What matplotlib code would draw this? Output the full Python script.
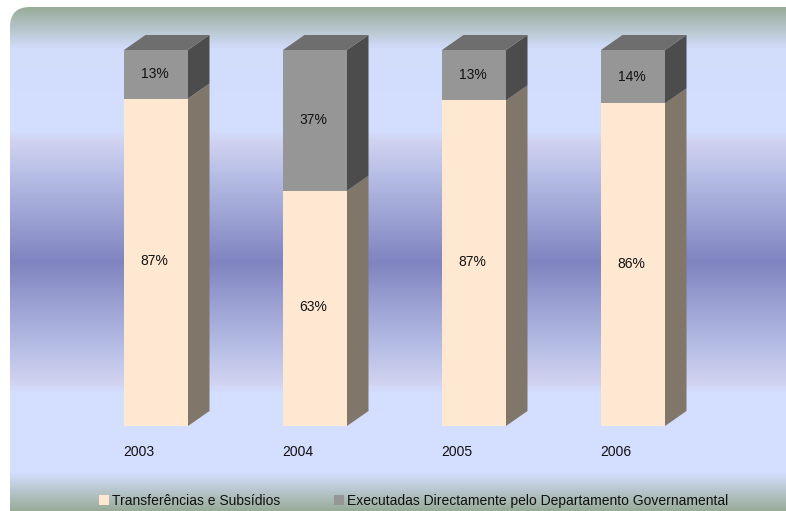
import matplotlib
matplotlib.use('Agg')
import matplotlib.pyplot as plt
import numpy as np
from matplotlib.colors import LinearSegmentedColormap
from matplotlib.patches import FancyBboxPatch, Polygon

plt.rcParams['font.family'] = ['Liberation Sans', 'DejaVu Sans']

# data
years = ['2003', '2004', '2005', '2006']
transfers = [87.1, 62.6, 86.6, 85.8]
direct = [12.9, 37.4, 13.4, 14.2]
series_names = ['Transferências e Subsídios',
                'Executadas Directamente pelo Departamento Governamental']

W, H = 786, 511

fig = plt.figure(figsize=(W / 100, H / 100), dpi=100, facecolor='white')

# background panel with the vertical gradient
bg = fig.add_axes([0, 0, 1, 1])
bg.axis('off')
stops = [(0.0, '#98ac98'), (0.08, '#d2dcfb'), (0.245, '#d4deff'), (0.265, '#d0d2f0'),
         (0.33, '#b8bfe6'), (0.506, '#8084c0'), (0.68, '#b8bfe6'), (0.745, '#d0d2f0'),
         (0.765, '#d4deff'), (0.925, '#d4deff'), (1.0, '#98ac98')]
cmap = LinearSegmentedColormap.from_list('panel', stops, N=512)
grad = np.linspace(0, 1, 504).reshape(-1, 1)
im = bg.imshow(grad, cmap=cmap, extent=(10, W + 30, 511, 7), aspect='auto')
panel = FancyBboxPatch((10 + 20, 7 + 20), W, H, boxstyle='round,pad=20,rounding_size=20',
                       transform=bg.transData, fc='none', ec='none')
bg.add_patch(panel)
im.set_clip_path(panel)
bg.set_xlim(0, W)
bg.set_ylim(H, 0)

# chart axes: x in category slots, y in percent
ax = fig.add_axes([0, (H - 426) / H, 1, 376 / H])
ax.patch.set_alpha(0)
ax.axis('off')
slot = 159
x0 = 156
ax.set_xlim(-x0 / slot, (W - x0) / slot)
ax.set_ylim(0, 100)

x = np.arange(len(years))
bar_w = 64 / slot
dx = 21.5 / slot
dy = 15 / 376 * 100

c_low, c_low_side = '#ffe8d2', '#80766a'
c_top, c_top_side, c_cap = '#969696', '#4c4c4c', '#6e6e6e'

ax.bar(x, transfers, bar_w, color=c_low, lw=0, label=series_names[0], zorder=3)
ax.bar(x, direct, bar_w, bottom=transfers, color=c_top, lw=0, label=series_names[1], zorder=3)

for i in x:
    r = i + bar_w / 2
    l = i - bar_w / 2
    mid = transfers[i]
    top = mid + direct[i]
    ax.add_patch(Polygon([(r, 0), (r + dx, dy), (r + dx, mid + dy), (r, mid)],
                         fc=c_low_side, ec='none', zorder=2, clip_on=False))
    ax.add_patch(Polygon([(r, mid), (r + dx, mid + dy), (r + dx, top + dy), (r, top)],
                         fc=c_top_side, ec='none', zorder=2, clip_on=False))
    ax.add_patch(Polygon([(l, top), (l + dx, top + dy), (r + dx, top + dy), (r, top)],
                         fc=c_cap, ec='none', zorder=2, clip_on=False))
    ax.annotate(f'{transfers[i]:.0f}%', (i, mid / 2), xytext=(-1.5, 1), textcoords='offset pixels',
                ha='center', va='center', fontsize=10, color='#111111', zorder=4)
    ax.annotate(f'{direct[i]:.0f}%', (i, mid + direct[i] / 2), xytext=(-1.5, 0),
                textcoords='offset pixels', ha='center', va='center', fontsize=10,
                color='#111111', zorder=4)
    ax.annotate(years[i], (l, 0), xytext=(-1, -26), textcoords='offset pixels', ha='left',
                va='center', fontsize=10, color='#111111')

ax.legend(loc='lower left', bbox_to_anchor=(95 / W, -86 / 376), ncol=2, frameon=False, fontsize=10,
          handlelength=0.72, handleheight=0.72, handletextpad=0.2, columnspacing=3.86,
          labelcolor='#111111', borderpad=0.3, borderaxespad=0)

plt.savefig('out.png', dpi=100)
